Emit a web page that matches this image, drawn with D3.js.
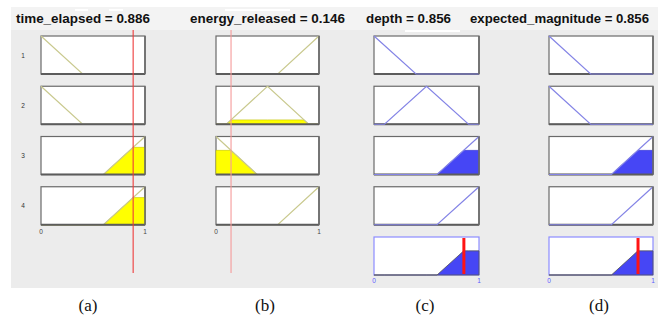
<!DOCTYPE html>
<html>
<head>
<meta charset="utf-8">
<script src="https://cdn.jsdelivr.net/npm/d3@7/dist/d3.min.js"></script>
<style>
  body { margin: 0; background: #fff; }
</style>
</head>
<body>
<svg id="chart" width="664" height="320"></svg>
<script>
// inputs / outputs of the rule viewer
const inputNames = ['time_elapsed', 'energy_released'];
const inputValues = [0.886, 0.146];
const outputNames = ['depth', 'expected_magnitude'];
const outputValues = [0.856, 0.856];
const ruleIds = [1, 2, 3, 4];

// triangular membership params [a, b, c], one per rule
const timeMF = [[0, 0, 0.4], [0, 0, 0.4], [0.6, 1, 1], [0.6, 1, 1]];
const energyMF = [[0.6, 1, 1], [0.1, 0.5, 0.9], [0, 0, 0.4], [0.6, 1, 1]];
const depthMF = [[0, 0, 0.4], [0.1, 0.5, 0.9], [0.6, 1, 1], [0.6, 1, 1]];
const magnitudeMF = [[0, 0, 0.4], [0, 0, 0.4], [0.6, 1, 1], [0.6, 1, 1]];

const axisTicks = [0, 1];
const captions = ['(a)', '(b)', '(c)', '(d)'];

const svg = d3.select('#chart');

// layout
const cols = [
  {x0: 41, x1: 145, titleX: 16, titleW: 134, capX: 88},
  {x0: 216, x1: 319, titleX: 190, titleW: 155, capX: 265},
  {x0: 374, x1: 479, titleX: 366, titleW: 85, capX: 425},
  {x0: 549, x1: 653, titleX: 470, titleW: 179, capX: 599}
];
const boxH = 38;
const rowTop = d3.scaleLinear().domain([1, 5]).range([36, 237]);

const olive = '#c9c98e';
const blueLine = '#8484e6';
const blueFill = '#4646f5';

function trimf(x, p) {
  const [a, b, c] = p;
  if (x < a || x > c) return 0;
  if (x <= b) return b === a ? 1 : (x - a) / (b - a);
  return c === b ? 1 : (c - x) / (c - b);
}

function mfPoints(p) {
  const xs = Array.from(new Set([0, p[0], p[1], p[2], 1])).sort((m, n) => m - n);
  return xs.map(x => [x, trimf(x, p)]);
}

// closed area under min(mf, h)
function clippedPoints(p, h) {
  const xs = [0, p[0], p[0] + h * (p[1] - p[0]), p[1], p[2] - h * (p[2] - p[1]), p[2], 1];
  const u = Array.from(new Set(xs)).sort((m, n) => m - n);
  return [[0, 0]].concat(u.map(x => [x, Math.min(trimf(x, p), h)]), [[1, 0]]);
}

function aggregatePoints(mfs, hs) {
  let xs = [0, 1];
  mfs.forEach((p, i) => {
    xs.push(p[0], p[1], p[2], p[0] + hs[i] * (p[1] - p[0]), p[2] - hs[i] * (p[2] - p[1]));
  });
  xs = Array.from(new Set(xs)).sort((m, n) => m - n);
  return [[0, 0]].concat(xs.map(x => [x, d3.max(mfs, (p, i) => Math.min(trimf(x, p), hs[i]))]), [[1, 0]]);
}

// panel background
svg.append('rect').attr('x', 11).attr('y', 7).attr('width', 647).attr('height', 281).attr('fill', '#ececec');
svg.append('rect').attr('x', 11).attr('y', 7).attr('width', 647).attr('height', 23).attr('fill', '#f3f3f3');
// ghost artifacts from the screenshot
[[75, 9, 13], [109, 9, 14], [225, 9, 65], [405, 30, 55]].forEach(d => {
  svg.append('rect').attr('x', d[0]).attr('y', d[1]).attr('width', d[2]).attr('height', 2).attr('fill', '#fff');
});

// rule firing strengths (min)
const inputMFs = [timeMF, energyMF];
const degrees = inputMFs.map((mfs, k) => mfs.map(p => trimf(inputValues[k], p)));
const firing = ruleIds.map((r, i) => Math.min(degrees[0][i], degrees[1][i]));

cols.forEach((col, ci) => {
  const x = d3.scaleLinear().domain([0, 1]).range([col.x0, col.x1]);
  const g = svg.append('g');
  const isInput = ci < 2;
  const name = isInput ? inputNames[ci] : outputNames[ci - 2];
  const value = isInput ? inputValues[ci] : outputValues[ci - 2];
  const mfs = isInput ? inputMFs[ci] : (ci === 2 ? depthMF : magnitudeMF);

  g.append('text')
    .attr('x', col.titleX).attr('y', 23)
    .attr('font-family', 'Liberation Sans, Arial, sans-serif')
    .attr('font-weight', 'bold').attr('font-size', 13)
    .attr('fill', '#111')
    .attr('textLength', col.titleW).attr('lengthAdjust', 'spacingAndGlyphs')
    .text(`${name} = ${value.toFixed(3)}`);

  ruleIds.forEach((r, i) => {
    const top = rowTop(r);
    const y = d3.scaleLinear().domain([0, 1]).range([top + boxH, top]);
    const line = d3.line().x(d => x(d[0])).y(d => y(d[1]));

    g.append('rect').attr('x', x(0)).attr('y', top).attr('width', x(1) - x(0)).attr('height', boxH)
      .attr('fill', '#fff').attr('stroke', '#6a6a6a').attr('stroke-width', 1.2);

    const h = isInput ? degrees[ci][i] : firing[i];
    if (h > 0) {
      g.append('path').attr('d', line(clippedPoints(mfs[i], h)) + 'Z')
        .attr('fill', isInput ? '#ffff00' : blueFill)
        .attr('stroke', isInput ? '#c4c400' : '#3a3ad0').attr('stroke-width', 0.6);
    }

    if (isInput) {
      g.append('path').attr('d', line(mfPoints(mfs[i])))
        .attr('fill', 'none').attr('stroke', olive).attr('stroke-width', 1.2);
      g.append('line').attr('x1', x(0)).attr('x2', x(1)).attr('y1', top + boxH).attr('y2', top + boxH)
        .attr('stroke', '#5c5c5c').attr('stroke-width', 2);
    } else {
      g.append('line').attr('x1', x(0)).attr('x2', x(1)).attr('y1', top + boxH).attr('y2', top + boxH)
        .attr('stroke', '#5c5c5c').attr('stroke-width', 2);
      g.append('path').attr('d', line(mfPoints(mfs[i])))
        .attr('fill', 'none').attr('stroke', blueLine).attr('stroke-width', 1.2);
    }
    g.append('line').attr('x1', x(1)).attr('x2', x(1)).attr('y1', top).attr('y2', top + boxH)
      .attr('stroke', '#6a6a6a').attr('stroke-width', 1.6);

    if (ci === 0) {
      svg.append('text').attr('x', 23).attr('y', top + boxH / 2 + 2.5)
        .attr('font-family', 'Liberation Sans, Arial, sans-serif').attr('font-size', 6.5)
        .attr('fill', '#333').attr('text-anchor', 'middle').text(r);
    }
  });

  if (isInput) {
    const bottom = rowTop(ruleIds[ruleIds.length - 1]) + boxH;
    g.selectAll('.tick').data(axisTicks).enter().append('text')
      .attr('x', d => x(d)).attr('y', bottom + 9)
      .attr('font-family', 'Liberation Sans, Arial, sans-serif').attr('font-size', 6.5)
      .attr('fill', '#444').attr('text-anchor', 'middle').text(d => d);
    g.append('line').attr('x1', x(value)).attr('x2', x(value)).attr('y1', 30).attr('y2', 273)
      .attr('stroke', ci === 0 ? '#ee3b3b' : '#f59a9a').attr('stroke-width', 1.1);
  } else {
    const top = rowTop(5);
    const y = d3.scaleLinear().domain([0, 1]).range([top + boxH, top]);
    const line = d3.line().x(d => x(d[0])).y(d => y(d[1]));
    g.append('rect').attr('x', x(0)).attr('y', top).attr('width', x(1) - x(0)).attr('height', boxH)
      .attr('fill', '#fff').attr('stroke', '#8c8cff').attr('stroke-width', 1.2);
    g.append('path').attr('d', line(aggregatePoints(mfs, firing)) + 'Z')
      .attr('fill', blueFill).attr('stroke', '#555').attr('stroke-width', 0.8);
    g.append('line').attr('x1', x(value)).attr('x2', x(value)).attr('y1', top + 1).attr('y2', top + boxH - 1)
      .attr('stroke', '#ff1414').attr('stroke-width', 3);
    g.selectAll('.tick').data(axisTicks).enter().append('text')
      .attr('x', d => x(d)).attr('y', top + boxH + 8)
      .attr('font-family', 'Liberation Sans, Arial, sans-serif').attr('font-size', 6.5)
      .attr('fill', '#5a5aff').attr('text-anchor', 'middle').text(d => d);
  }

  svg.append('text').attr('x', col.capX).attr('y', 311)
    .attr('font-family', 'Liberation Serif, Times New Roman, serif').attr('font-size', 17)
    .attr('fill', '#111').attr('text-anchor', 'middle').text(captions[ci]);
});
</script>
</body>
</html>
